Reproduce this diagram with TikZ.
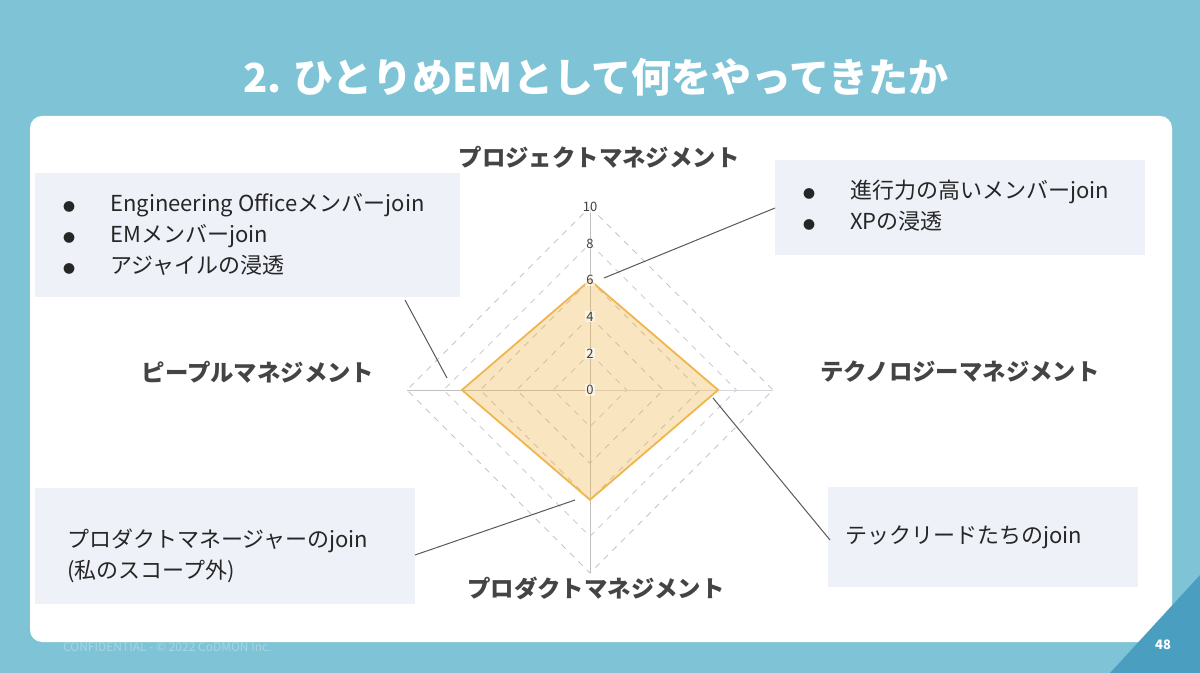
\documentclass[tikz,border=0pt]{standalone}
\usepackage{fontspec}
\setmainfont{Noto Sans CJK JP}
\usepackage{xcolor}
\usetikzlibrary{calc}
\definecolor{bgblue}{HTML}{7FC4D6}
\definecolor{darkblue}{HTML}{4A9FC0}
\definecolor{boxfill}{HTML}{EEF2F8}
\definecolor{axistext}{HTML}{444444}
\definecolor{radar}{HTML}{F0B54C}
\newcommand{\blt}{{\fontsize{6}{6}\selectfont ●}\hspace{1.6em}}
\tikzset{
  notebox/.style={fill=boxfill,inner sep=0pt},
  notetext/.style={anchor=west,font=\fontsize{11}{15.5}\selectfont,text=black!85,align=left},
  axislabel/.style={font=\fontsize{11.7}{13}\selectfont\bfseries,text=axistext},
  gridline/.style={gray!45,dashed,line width=0.4pt},
  leader/.style={gray!70!black,line width=0.5pt}
}
\begin{document}
\begin{tikzpicture}[x=0.5pt,y=-0.5pt]
\useasboundingbox (0,0) rectangle (1200,673);
\fill[bgblue] (0,0) rectangle (1200,673);
\fill[white,rounded corners=6pt] (30,116) rectangle (1172,642);
\fill[darkblue] (1110,673) -- (1200,575) -- (1200,673) -- cycle;
\node[font=\fontsize{20}{22}\selectfont\bfseries,text=white] (title) at (596,77) {2. ひとりめEMとして何をやってきたか};
\node[font=\fontsize{6}{7}\selectfont,text=white!30!bgblue,anchor=west] (footer) at (56,647) {CONFIDENTIAL - © 2022 CoDMON Inc.};
\node[font=\fontsize{6.5}{7}\selectfont\bfseries,text=white] (page) at (1163,645) {48};
% radar chart
\coordinate (c) at (590,390);
\foreach \r in {2,4,6,8,10}
  \draw[gridline] ($(c)+(0,-18.3*\r)$) -- ($(c)+(18.3*\r,0)$) -- ($(c)+(0,18.3*\r)$) -- ($(c)+(-18.3*\r,0)$) -- cycle;
\draw[gray!50] (c) -- +(0,-183);
\draw[gray!50] (c) -- +(0,183);
\draw[gray!50] (c) -- +(-183,0);
\draw[blue!10!gray!30] (c) -- +(183,0);
\draw[radar,fill=radar,fill opacity=0.35,line width=0.9pt]
  ($(c)+(0,-109.8)$) coordinate (pj) -- ($(c)+(128.1,0)$) coordinate (tc)
  -- ($(c)+(0,109.8)$) coordinate (pd) -- ($(c)+(-128.1,0)$) coordinate (pp) -- cycle;
\foreach \v in {0,2,...,10}
  \node[font=\fontsize{6.5}{7}\selectfont,text=black!75,fill=white,fill opacity=0.6,text opacity=1,inner sep=0.5pt] at ($(c)+(0,-18.3*\v)$) {\v};
% axis labels
\node[axislabel] (ltop) at (599,157) {プロジェクトマネジメント};
\node[axislabel] (lright) at (960,372) {テクノロジーマネジメント};
\node[axislabel] (lleft) at (258,372) {ピープルマネジメント};
\node[axislabel] (lbottom) at (596,588) {プロダクトマネジメント};
% note boxes
\fill[notebox] (35,173) rectangle (460,297);
\node[notetext] (tl) at (56,234) {\blt Engineering Officeメンバーjoin\\\blt EMメンバーjoin\\\blt アジャイルの浸透};
\fill[notebox] (775,160) rectangle (1145,255);
\node[notetext] (tr) at (796,206) {\blt 進行力の高いメンバーjoin\\\blt XPの浸透};
\fill[notebox] (35,488) rectangle (415,604);
\node[notetext] (bl) at (60,556) {プロダクトマネージャーのjoin\\(私のスコープ外)};
\fill[notebox] (828,487) rectangle (1138,587);
\node[notetext] (br) at (838,537) {テックリードたちのjoin};
% leaders
\coordinate (tlend) at (405,300);
\coordinate (trend) at (775,208);
\coordinate (blend) at (415,555);
\coordinate (brend) at (830,540);
\draw[leader] (tlend) -- (447,378);
\draw[leader] (trend) -- (604,278);
\draw[leader] (blend) -- (575,500);
\draw[leader] (brend) -- (713,398);
\end{tikzpicture}
\end{document}
